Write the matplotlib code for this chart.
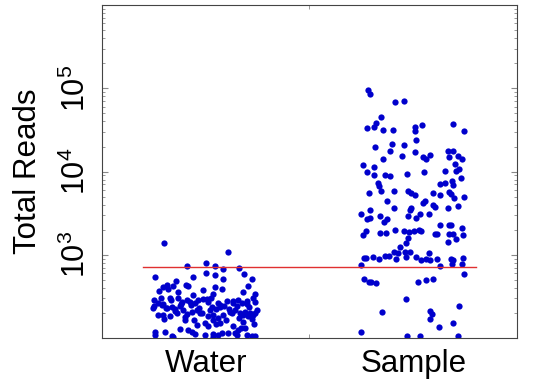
import numpy as np
import matplotlib.pyplot as plt

plt.rcParams['font.family'] = ['Liberation Sans', 'DejaVu Sans']
plt.rcParams['mathtext.fontset'] = 'custom'
plt.rcParams['mathtext.rm'] = 'Liberation Sans'

categories = ['Water', 'Sample']
threshold = 720

# water samples: jitter offset, total reads
water_dx = [-0.202, 0.109, 0.0, -0.092, 0.047, 0.159, 0.085, -0.243, 0.0, 0.045,
            0.186, -0.063, -0.141, 0.082, 0.222, -0.188, -0.204, -0.156, -0.096, -0.083,
            0.045, 0.202, -0.225, -0.18, -0.135, -0.011, 0.08, 0.18, 0.238, 0.037,
            -0.06, -0.249, -0.204, -0.172, -0.132, -0.092, -0.076, -0.035, -0.011, 0.013,
            0.024, 0.061, 0.101, 0.133, 0.157, 0.174, 0.198, 0.23, 0.238, -0.247,
            -0.212, -0.188, -0.164, -0.148, -0.124, -0.108, -0.067, -0.04, -0.019, 0.029,
            0.05, 0.069, 0.117, 0.141, 0.165, 0.19, 0.214, 0.238, -0.252, -0.228,
            -0.204, -0.172, -0.14, -0.092, -0.027, 0.013, 0.037, 0.085, 0.125, 0.178,
            0.206, 0.226, -0.1, -0.055, 0.037, 0.069, -0.003, 0.05, 0.098, 0.18,
            0.235, -0.043, 0.013, 0.133, 0.19, -0.124, -0.083, -0.067, -0.196, -0.244,
            -0.244, -0.051, -0.003, 0.037, 0.061, 0.109, 0.141, 0.157, 0.153, 0.169,
            0.198, 0.222, 0.238, -0.164, -0.156, 0.037, 0.077,
            -0.23, -0.19, -0.15, -0.12, -0.07, -0.03, 0.02, 0.07, 0.11, 0.15,
            0.2, 0.245, -0.215, -0.165, -0.115, -0.05, 0.005, 0.09, 0.13, 0.21,
            -0.2, -0.1, 0.06, 0.16, 0.225]
water_reads = [1390, 1076, 802, 733, 733, 700, 668, 546, 598, 571,
               588, 546, 489, 517, 507, 433, 407, 422, 433, 422,
               415, 422, 368, 385, 358, 378, 393, 358, 339, 336,
               330, 287, 257, 300, 306, 287, 274, 287, 292, 274,
               300, 267, 279, 279, 287, 267, 279, 300, 274, 243,
               248, 228, 239, 222, 243, 218, 208, 218, 203, 239,
               222, 239, 208, 218, 203, 208, 199, 203, 228, 190,
               190, 182, 199, 195, 199, 185, 190, 190, 199, 190,
               185, 190, 166, 163, 163, 154, 151, 148, 163, 158,
               148, 144, 138, 140, 132, 128, 126, 118, 120, 120,
               110, 112, 110, 112, 110, 115, 115, 124, 110, 132,
               110, 107, 107, 107, 102, 102, 115,
               265, 232, 212, 260, 250, 230, 215, 252, 226, 240,
               255, 220, 300, 290, 270, 262, 296, 246, 262, 234,
               172, 180, 176, 174, 168]

# sample libraries: jitter offset, total reads
sample_dx = [-0.218, -0.207, -0.09, -0.047, -0.154, -0.178, -0.223, -0.191, -0.148, -0.098,
             0.01, 0.042, 0.01, 0.19, 0.243, 0.014, -0.186, -0.103, -0.047, -0.114,
             0.006, -0.055, 0.082, 0.047, 0.063, 0.165, 0.19, 0.17, 0.215, 0.235,
             -0.148, -0.243, -0.188, 0.202, 0.218, -0.223, -0.188, -0.135, -0.111, -0.031,
             0.05, 0.154, 0.207, 0.23, 0.186, 0.127, 0.154, 0.191, -0.17, -0.164,
             -0.215, -0.154, -0.092, -0.026, -0.01, 0.01, 0.095, 0.13, 0.17, 0.18,
             0.198, 0.243, -0.127, 0.047, 0.058, 0.095, 0.106, 0.215, -0.011, -0.018,
             -0.207, -0.092, -0.25, 0.165, -0.221, -0.207, -0.162, -0.14, -0.127, -0.027,
             0.014, 0.034, 0.074, 0.127, 0.17, 0.182, 0.235, -0.243, -0.226, -0.159,
             -0.132, -0.087, -0.047, -0.022, 0.002, 0.026, 0.037, 0.103, 0.114, 0.17,
             0.19, 0.207, 0.239, -0.027, -0.034, 0.165, -0.066, -0.095, -0.074, -0.039,
             -0.014, -0.138, -0.116, -0.082, -0.034, -0.236, -0.226, -0.194, -0.167, -0.25,
             0.014, 0.037, 0.063, 0.074, 0.082, 0.114, 0.182, 0.191, 0.239, 0.13,
             0.186, 0.235, 0.243, -0.239, -0.215, -0.202, -0.178, 0.021, 0.063, 0.095,
             -0.034, 0.218, -0.151, 0.082, 0.09, 0.082, 0.191, 0.122, -0.25, -0.031,
             0.031, 0.215]
sample_reads = [96400, 84800, 69300, 70600, 45400, 38200, 33000, 33900, 31500, 32000,
                33900, 36100, 30300, 36800, 30900, 23900, 19900, 21400, 20800, 17800,
                17000, 15400, 16000, 14800, 14000, 17500, 17500, 15100, 15300, 14000,
                14200, 12100, 11500, 12400, 10800, 9800, 9200, 9200, 8800, 9300,
                9800, 10300, 10300, 8400, 7800, 7100, 7300, 6900, 7300, 6700,
                5500, 5800, 5800, 5800, 5600, 5200, 5600, 5200, 5700, 5400,
                4800, 4900, 4400, 4200, 4400, 4000, 3800, 3900, 3700, 3500,
                3500, 3700, 3100, 3700, 2700, 2800, 2900, 2500, 2700, 2900,
                2800, 3100, 3100, 2300, 2300, 2300, 2100, 1720, 1940, 1830,
                1830, 2000, 1940, 1880, 1940, 2000, 1940, 1800, 1800, 1770,
                1800, 1570, 1750, 1610, 1390, 1430, 1250, 1090, 1040, 1070,
                1070, 970, 970, 900, 950, 920, 920, 950, 880, 750,
                930, 860, 900, 1040, 860, 900, 900, 860, 920, 740,
                770, 770, 590, 510, 475, 475, 454, 475, 500, 510,
                292, 243, 208, 214, 195, 170, 154, 135, 118, 105,
                107, 105]

fig = plt.figure(figsize=(5.42, 3.86), dpi=100)
ax = fig.add_axes([0.188, 0.124, 0.766, 0.863])

ax.plot(1 + np.array(water_dx), water_reads, 'o', color='#0000CC', ms=4.5, mew=0)
ax.plot(2 + np.array(sample_dx), sample_reads, 'o', color='#0000CC', ms=4.5, mew=0)
ax.plot([0.7, 2.3], [threshold, threshold], color='#E03030', lw=1)

ax.set_yscale('log')
ax.set_ylim(100, 1e6)
ax.set_xlim(0.5, 2.5)
ax.set_yticks([1e3, 1e4, 1e5])
ax.set_yticklabels([r'$\mathregular{10^{3}}$', r'$\mathregular{10^{4}}$', r'$\mathregular{10^{5}}$'],
                   rotation=90, va='center', fontsize=22)
ax.set_xticks([1, 2])
ax.set_xticklabels(categories, fontsize=22.5)
ax.set_xticks([1.5], minor=True)
ax.tick_params(axis='x', which='major', length=0, pad=8)
ax.tick_params(axis='x', which='minor', direction='in', length=3, top=True, color='#888888')
ax.tick_params(axis='y', which='both', direction='in', right=True, color='#888888', pad=7)
ax.tick_params(axis='y', which='major', length=4)
ax.tick_params(axis='y', which='minor', length=2)
ax.set_ylabel('Total Reads', fontsize=22.5, labelpad=13)

for s in ax.spines.values():
    s.set_color('#444444')

fig.savefig('out.png', dpi=100)
